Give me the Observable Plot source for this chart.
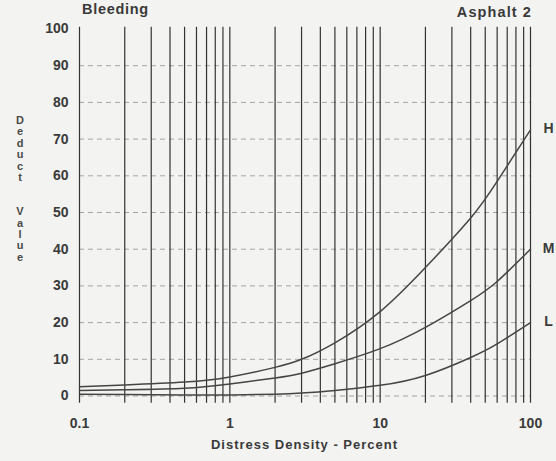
<!DOCTYPE html>
<html><head><meta charset="utf-8">
<script src="https://cdn.jsdelivr.net/npm/d3@7"></script>
<script src="https://cdn.jsdelivr.net/npm/@observablehq/plot@0.6"></script>
<style>
html,body{margin:0;padding:0;background:#f3f3f1;}
#wrap{position:relative;width:556px;height:461px;font-family:"Liberation Sans",Arial,sans-serif;color:#3a3a3a;font-weight:bold;overflow:hidden;}
#wrap svg{position:absolute;left:0;top:0;}
#title{position:absolute;left:82px;top:1px;font-size:14.5px;letter-spacing:0.7px;}
#subtitle{position:absolute;right:24px;top:4px;font-size:14.5px;letter-spacing:1.1px;}
#ylab{position:absolute;left:14px;top:115px;width:12px;text-align:center;font-size:11px;line-height:11.4px;color:#4a4a4a;}
#xlab{position:absolute;left:79px;width:451px;top:437px;text-align:center;font-size:13px;letter-spacing:1px;}
</style>
</head><body>
<div id="wrap">
  <div id="title">Bleeding</div>
  <div id="subtitle">Asphalt 2</div>
  <div id="ylab"></div>
  <div id="xlab">Distress Density - Percent</div>
</div>
<script>
// data
const density = [0.1, 0.2, 0.5, 1, 2, 3, 5, 10, 20, 40, 60, 100];
const highValues = [2.5, 3.0, 3.8, 5.2, 7.8, 10, 14.5, 23, 35, 48.5, 58.5, 72.5];
const mediumValues = [1.5, 1.7, 2.1, 3.3, 4.9, 6.2, 8.8, 12.9, 18.7, 26, 31.2, 40];
const lowValues = [0.5, 0.4, 0.3, 0.3, 0.5, 0.8, 1.5, 2.9, 5.6, 10.5, 14.2, 20];
const severityLabels = ["H", "M", "L"];
const xTicks = [0.1, 1, 10, 100];
const xTickLabels = ["0.1", "1", "10", "100"];
const yTicks = [0, 10, 20, 30, 40, 50, 60, 70, 80, 90, 100];
const xGrid = [0.1,0.2,0.3,0.4,0.5,0.6,0.7,0.8,0.9,1,2,3,4,5,6,7,8,9,10,20,30,40,50,60,70,80,90,100];
const yGrid = [0, 10, 20, 30, 40, 50, 60, 70, 80, 90];
const yLabelText = "Deduct  Value";

const seriesValues = [highValues, mediumValues, lowValues];
const rows = [];
seriesValues.forEach((vals, s) => density.forEach((d, i) => rows.push({x: d, v: vals[i], s: severityLabels[s]})));
const ends = severityLabels.map((s, k) => ({x: density[density.length - 1], v: seriesValues[k][seriesValues[k].length - 1], s}));

document.getElementById("ylab").innerHTML = yLabelText.split("").map(c => c === " " ? "&nbsp;" : c).join("<br>");

const plot = Plot.plot({
  width: 556, height: 461,
  marginLeft: 79, marginRight: 26, marginTop: 28.5, marginBottom: 65.5,
  style: {background: "transparent", fontFamily: "'Liberation Sans', Arial, sans-serif", fontSize: "14px", fontWeight: "bold", color: "#3a3a3a"},
  x: {type: "log", domain: [0.1, 100], ticks: xTicks, tickFormat: d => xTickLabels[xTicks.indexOf(d)] ?? "", tickSize: 0, tickPadding: 22, label: null},
  y: {domain: [0, 100], ticks: yTicks, tickSize: 0, tickPadding: 11, label: null},
  marks: [
    Plot.ruleY(yGrid, {x1: 0.1, x2: 100, stroke: "#a4a4a4", strokeDasharray: "5,4", strokeWidth: 1}),
    Plot.ruleX(xGrid, {y1: -2, y2: 100.5, stroke: "#333", strokeWidth: 1.2}),
    Plot.line(rows, {x: "x", y: "v", z: "s", curve: "natural", stroke: "#454545", strokeWidth: 1.5}),
    Plot.text(ends, {x: "x", y: "v", text: "s", dx: 18, dy: -1, fontSize: 14, fontWeight: "bold", fill: "#3a3a3a"})
  ]
});
document.getElementById("wrap").appendChild(plot);
</script>
</body></html>
